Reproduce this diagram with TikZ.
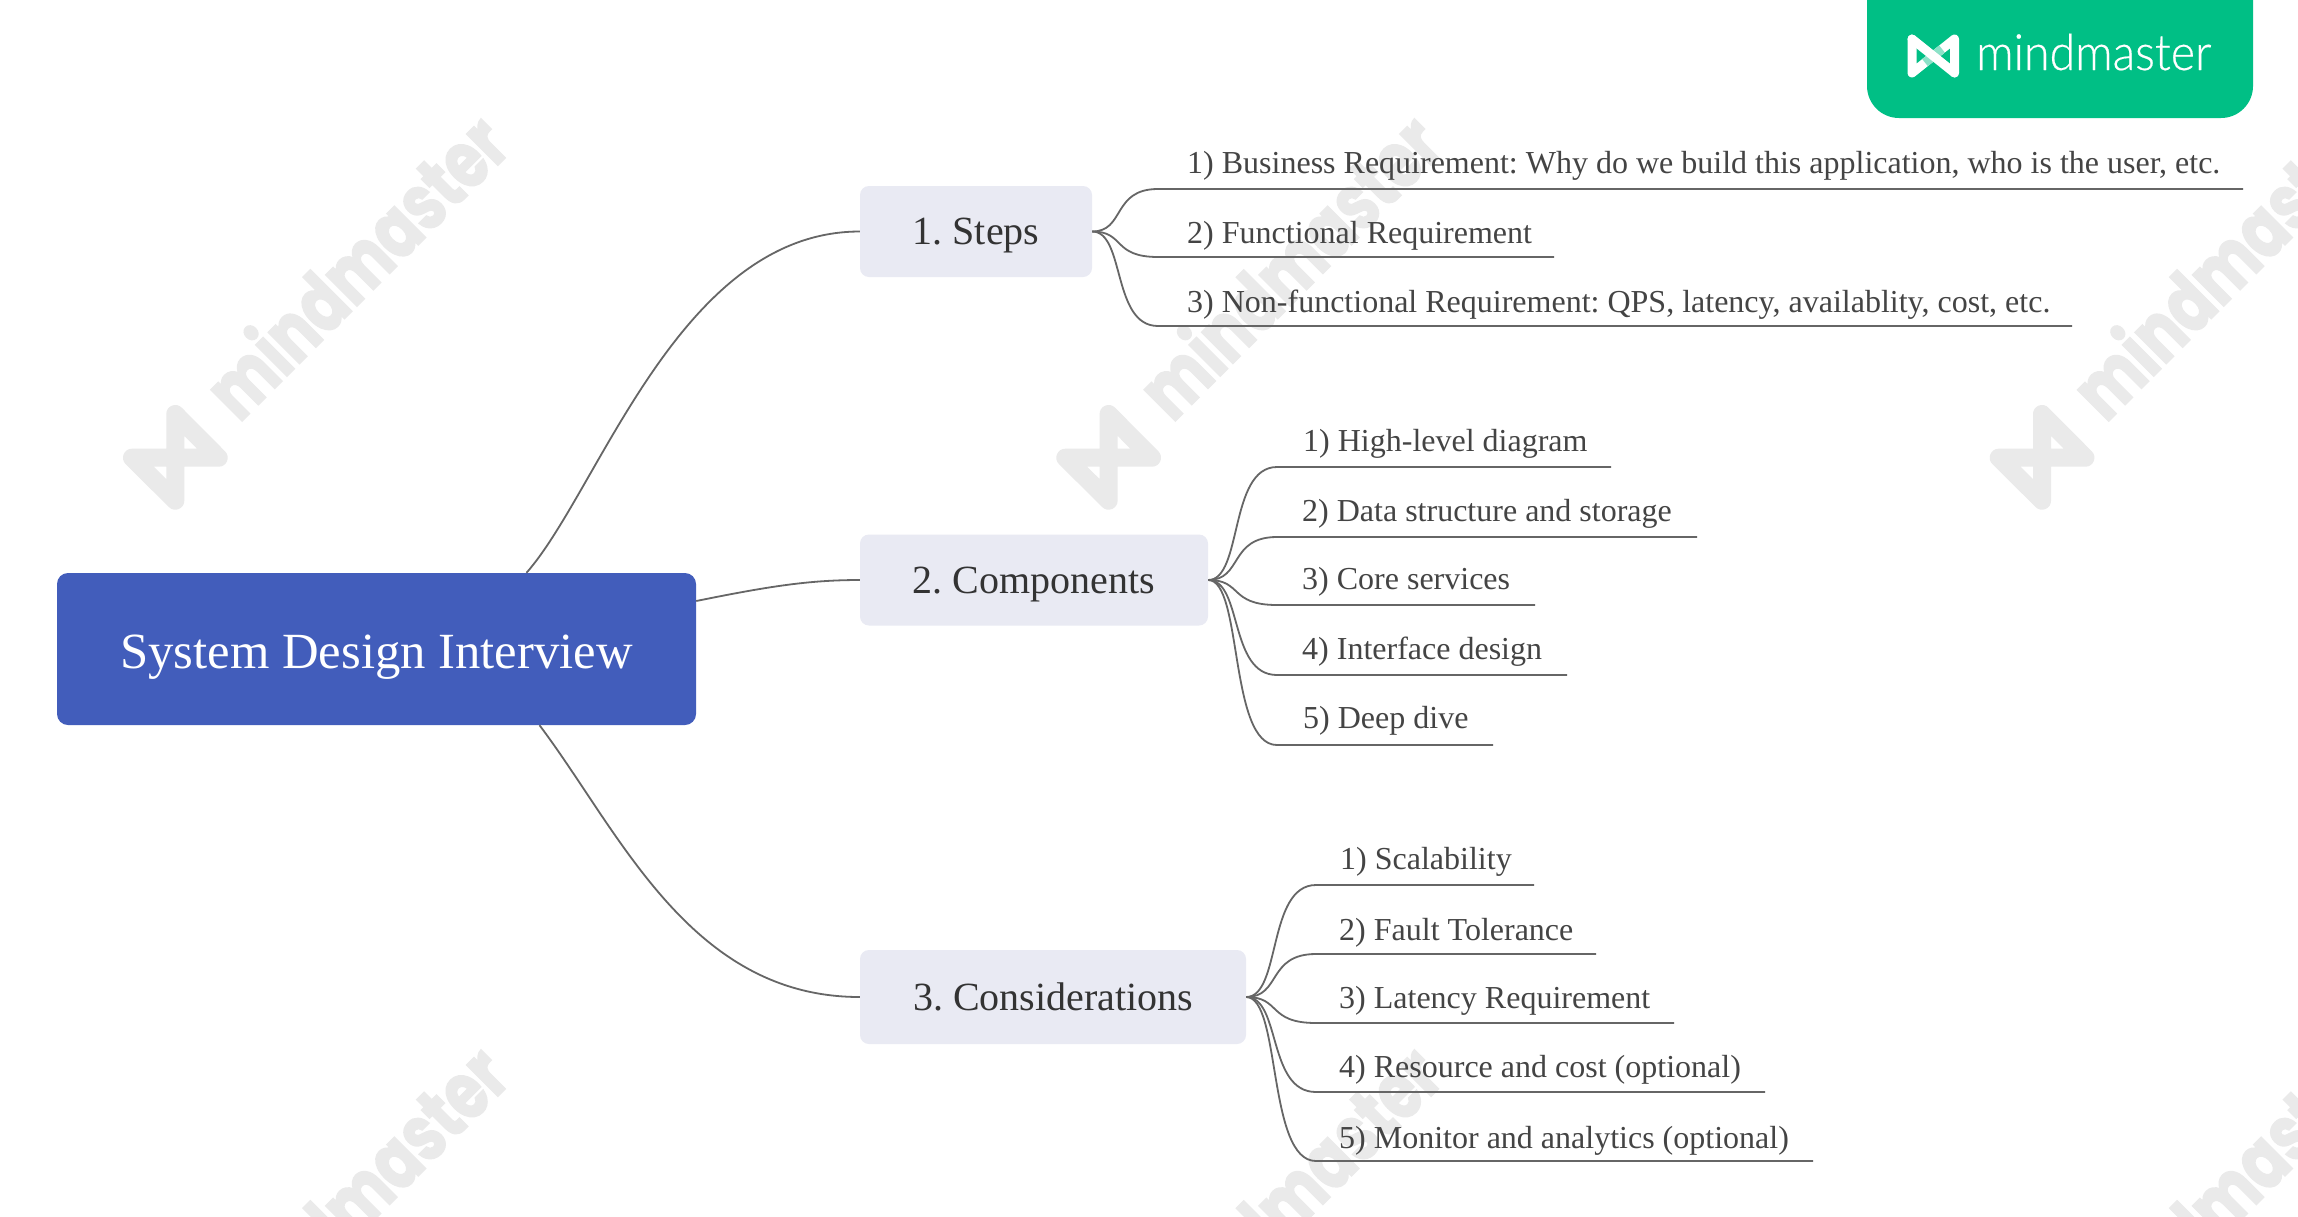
\documentclass[tikz,border=0pt]{standalone}
\usepackage{fontspec}
\setmainfont{Liberation Serif}
\newfontfamily\wmfont[FakeStretch=0.76,FakeBold=2]{Poppins}
\newfontfamily\logofont[FakeStretch=0.93,FakeBold=0.4]{Lato Light}
\frenchspacing
\definecolor{rootblue}{HTML}{425DBB}
\definecolor{boxgray}{HTML}{E9EAF3}
\definecolor{linegray}{HTML}{666666}
\definecolor{leaftext}{HTML}{444444}
\definecolor{subtext}{HTML}{333333}
\definecolor{wmgray}{HTML}{EAEAEA}
\definecolor{brandgreen}{HTML}{00BF85}
\tikzset{
  x=1pt,y=-1pt,
  rootbox/.style={fill=rootblue,text=white,rounded corners=11pt,inner sep=0pt,text height=38.5pt,text depth=0pt,font=\fontsize{50.7}{50.7}\selectfont},
  subbox/.style={fill=boxgray,text=subtext,rounded corners=9pt,inner sep=0pt,text height=26pt,text depth=0pt,font=\fontsize{40}{40}\selectfont},
  leaftxt/.style={anchor=base west,inner sep=0pt,text=leaftext,font=\fontsize{32}{32}\selectfont},
  link/.style={draw=linegray,line width=1.8pt},
  wmk/.pic={
    \draw[wmgray,line width=18pt,line join=round] (0,-43.7) -- (43.4,0) -- (-43.3,0) -- (0,43) -- cycle;
    \node[rotate=45,anchor=base west,inner sep=0pt,text=wmgray,font=\wmfont\bfseries\fontsize{79}{79}\selectfont] at (64,-34) {mindmaster};
  }
}
\newcommand{\leaf}[7]{% name, x text, x curve end, y line, x line end, text rise, text
  \node[leaftxt] (#1) at (#2,#4-#6) {#7};
  \coordinate (#1a) at (#3,#4);
  \coordinate (#1b) at (#5,#4);
}
\newcommand{\branch}[2]{% parent, leaf
  \draw[link] (#1.east) .. controls ([xshift=0.5*(\dxval)]#1.east) and ([xshift=-0.7*(\dxval)]#2a) .. (#2a) -- (#2b);
}
\begin{document}
\begin{tikzpicture}
\useasboundingbox (0,0) rectangle (2298,1216);
\fill[white] (0,0) rectangle (2298,1216);
\begin{scope}
\clip (0,0) rectangle (2298,1216);
\foreach \cx in {175.3,1108.6,2042}
  \foreach \cy in {457.7,1388.7}
    \pic at (\cx,\cy) {wmk};
\end{scope}
% brand badge
\fill[brandgreen,rounded corners=32pt] (1867,-60) rectangle (2253,118);
\draw[white,line width=9pt,line join=round,line cap=round] (1912,39) -- (1912,73) -- (1954.5,39) -- (1954.5,73);
\draw[white!55!brandgreen,line width=9pt] (1925,62.6) -- (1942,49);
\draw[white,line width=9pt,line join=round,line cap=round] (1912,39) -- (1954.5,73);
\node[anchor=base west,inner sep=0pt,text=white,font=\logofont\fontsize{50}{50}\selectfont] (brand) at (1976,70) {mindmaster};
% nodes
\node[rootbox,minimum width=639pt,minimum height=152pt] (root) at (376.5,649) {System Design Interview};
\node[subbox,minimum width=232pt,minimum height=91pt] (steps) at (976,231.5) {1. Steps};
\node[subbox,minimum width=348pt,minimum height=91pt] (comp) at (1034,580) {2. Components};
\node[subbox,minimum width=386pt,minimum height=94pt] (cons) at (1053,997) {3. Considerations};
% leaves
\leaf{sa}{1187}{1158}{189}{2243}{16}{1) Business Requirement: Why do we build this application, who is the user, etc.}
\leaf{sb}{1187}{1158}{257}{1554}{13.5}{2) Functional Requirement}
\leaf{sc}{1187}{1158}{326}{2072}{13.5}{3) Non-functional Requirement: QPS, latency, availablity, cost, etc.}
\leaf{pa}{1303}{1277}{467}{1611}{16}{1) High-level diagram}
\leaf{pb}{1302}{1277}{537}{1697}{16}{2) Data structure and storage}
\leaf{pc}{1302}{1277}{605}{1535}{16}{3) Core services}
\leaf{pd}{1302}{1277}{675}{1567}{16}{4) Interface design}
\leaf{pe}{1303}{1277}{745}{1493}{17}{5) Deep dive}
\leaf{ca}{1340}{1316}{885}{1534}{16}{1) Scalability}
\leaf{cb}{1339}{1316}{954}{1596}{14}{2) Fault Tolerance}
\leaf{cc}{1339}{1316}{1023}{1674}{14.5}{3) Latency Requirement}
\leaf{cd}{1339}{1316}{1092}{1765}{14.5}{4) Resource and cost (optional)}
\leaf{ce}{1339}{1316}{1161}{1813}{13}{5) Monitor and analytics (optional)}
% connectors
\draw[link] ([xshift=150pt]root.north) .. controls +(73,-83) and ([xshift=-180pt]steps.west) .. (steps.west);
\draw[link] ([yshift=48pt]root.east) .. controls +(74,-15) and ([xshift=-50pt]comp.west) .. (comp.west);
\draw[link] ([xshift=163pt]root.south) .. controls +(80,106) and ([xshift=-170pt]cons.west) .. (cons.west);
\def\dxval{66pt}
\foreach \l in {sa,sb,sc}{\branch{steps}{\l}}
\def\dxval{69pt}
\foreach \l in {pa,pb,pc,pd,pe}{\branch{comp}{\l}}
\def\dxval{70pt}
\foreach \l in {ca,cb,cc,cd,ce}{\branch{cons}{\l}}
\end{tikzpicture}
\end{document}
